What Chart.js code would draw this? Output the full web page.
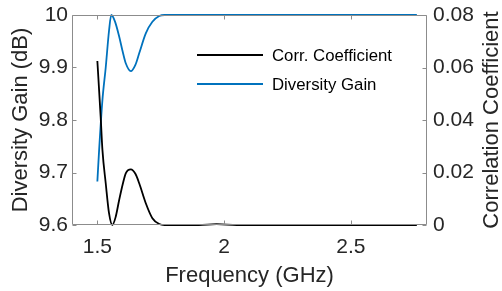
<!DOCTYPE html>
<html><head><meta charset="utf-8">
<script src="https://cdn.jsdelivr.net/npm/chart.js@4"></script>
<style>html,body{margin:0;padding:0;background:#fff}canvas{display:block}</style>
</head><body>
<canvas id="c" width="502" height="291"></canvas>
<script>
// ---- data ----
const freqDG = [1.5, 1.507, 1.52, 1.533, 1.546, 1.555, 1.57, 1.586, 1.6, 1.612, 1.632, 1.65, 1.665, 1.691, 1.717, 1.744, 1.765, 1.9, 2.2, 2.5, 2.76];
const gainDG = [9.683, 9.743, 9.838, 9.90, 9.97, 10.0, 9.987, 9.959, 9.93, 9.908, 9.893, 9.905, 9.927, 9.965, 9.987, 9.998, 10.0, 10.0, 10.0, 10.0, 10.0];
const freqCC = [1.5, 1.513, 1.52, 1.533, 1.546, 1.559, 1.572, 1.586, 1.6, 1.612, 1.632, 1.65, 1.665, 1.691, 1.717, 1.744, 1.765, 1.9, 1.97, 2.05, 2.3, 2.76];
const corrCC = [0.0625, 0.0413, 0.0286, 0.0159, 0.0045, 0.0, 0.003, 0.0095, 0.0155, 0.0197, 0.0212, 0.0195, 0.0159, 0.0083, 0.0026, 0.0004, 0.0, 0.0, 0.0003, 0.0, 0.0, 0.0];
const xTicks = [1.5, 2, 2.5];
const yLeftTicks = [9.6, 9.7, 9.8, 9.9, 10];
const yRightTicks = [0, 0.02, 0.04, 0.06, 0.08];
const seriesLabels = ['Corr. Coefficient', 'Diversity Gain'];
const xTitle = 'Frequency (GHz)';
const yLeftTitle = 'Diversity Gain (dB)';
const yRightTitle = 'Correlation Coefficient';

const FONT = "'Liberation Sans', Arial, sans-serif";
const TXT = '#262626';
const BOX = '#8c8c8c';

const toPts = (xs, ys) => xs.map((x, i) => ({x, y: ys[i]}));
const noPad = sc => { sc.paddingTop = 0; sc.paddingBottom = 0; sc.paddingLeft = 0; sc.paddingRight = 0; };

const frame = {
  id: 'frame',
  afterDatasetsDraw(chart) {
    const {ctx, chartArea: a, scales: s} = chart;
    ctx.save();
    ctx.strokeStyle = BOX; ctx.lineWidth = 1;
    const L = Math.round(a.left) + 0.5, R = Math.round(a.right) - 0.5;
    const T = Math.round(a.top) + 0.5, B = Math.round(a.bottom) - 0.5;
    ctx.beginPath();
    ctx.moveTo(L, T); ctx.lineTo(R, T); ctx.lineTo(R, B); ctx.lineTo(L, B); ctx.closePath();
    const tl = 4;
    xTicks.forEach(v => {
      const px = Math.round(s.x.getPixelForValue(v)) + 0.5;
      ctx.moveTo(px, B); ctx.lineTo(px, B - tl);
      ctx.moveTo(px, T); ctx.lineTo(px, T + tl);
    });
    yLeftTicks.forEach(v => {
      const py = Math.round(s.y.getPixelForValue(v)) + 0.5;
      ctx.moveTo(L, py); ctx.lineTo(L + tl, py);
    });
    yRightTicks.forEach(v => {
      const py = Math.round(s.y1.getPixelForValue(v)) + 0.5;
      ctx.moveTo(R, py); ctx.lineTo(R - tl, py);
    });
    ctx.stroke();

    // legend (inside the axes)
    const ds = chart.data.datasets;
    const rows = [55, 84];
    ctx.font = "16.8px " + FONT;
    ctx.textBaseline = 'middle'; ctx.textAlign = 'left';
    ds.forEach((d, i) => {
      ctx.strokeStyle = d.borderColor; ctx.lineWidth = 2;
      ctx.beginPath(); ctx.moveTo(197, rows[i]); ctx.lineTo(263, rows[i]); ctx.stroke();
      ctx.fillStyle = '#000';
      ctx.fillText(d.label, 272, rows[i] + 1);
    });

    // right axis title, reading bottom-to-top
    ctx.save();
    ctx.translate(492, (a.top + a.bottom) / 2);
    ctx.rotate(-Math.PI / 2);
    ctx.font = "22px " + FONT; ctx.fillStyle = TXT;
    ctx.textAlign = 'center'; ctx.textBaseline = 'middle';
    ctx.fillText(yRightTitle, 0, 0);
    ctx.restore();
    ctx.restore();
  }
};

new Chart(document.getElementById('c'), {
  type: 'line',
  data: {
    datasets: [
      {label: seriesLabels[0], data: toPts(freqCC, corrCC), yAxisID: 'y1', borderColor: '#000000', borderWidth: 1.8, pointRadius: 0, cubicInterpolationMode: 'monotone', clip: 3},
      {label: seriesLabels[1], data: toPts(freqDG, gainDG), yAxisID: 'y', borderColor: '#0072BD', borderWidth: 1.8, pointRadius: 0, cubicInterpolationMode: 'monotone', clip: 3}
    ]
  },
  options: {
    responsive: false, animation: false, devicePixelRatio: 1,
    layout: {padding: {top: 15, left: 0, right: 0, bottom: 0}},
    plugins: {legend: {display: false}, tooltip: {enabled: false}},
    scales: {
      x: {
        type: 'linear', position: 'bottom', min: 1.4, max: 2.8,
        grid: {display: false, drawTicks: false}, border: {display: false},
        afterBuildTicks: sc => { sc.ticks = xTicks.map(v => ({value: v})); },
        afterFit: sc => { noPad(sc); },
        ticks: {color: TXT, font: {family: FONT, size: 21, lineHeight: 1.0}, padding: 11.5, maxRotation: 0, autoSkip: false, callback: v => String(v)},
        title: {display: true, text: xTitle, color: TXT, font: {family: FONT, size: 22, lineHeight: '14px'}, padding: {top: 0, bottom: 8}}
      },
      y: {
        type: 'linear', position: 'left', min: 9.6, max: 10,
        grid: {display: false, drawTicks: false}, border: {display: false},
        afterBuildTicks: sc => { sc.ticks = yLeftTicks.map(v => ({value: v})); },
        afterFit: sc => { sc.width = 72; noPad(sc); },
        ticks: {color: TXT, font: {family: FONT, size: 21}, padding: 4, autoSkip: false, callback: v => String(v)},
        title: {display: true, text: yLeftTitle, color: TXT, font: {family: FONT, size: 22}, padding: {top: 8, bottom: 0}}
      },
      y1: {
        type: 'linear', position: 'right', min: 0, max: 0.08,
        grid: {display: false, drawTicks: false}, border: {display: false},
        afterBuildTicks: sc => { sc.ticks = yRightTicks.map(v => ({value: v})); },
        afterFit: sc => { sc.width = 75; noPad(sc); },
        ticks: {color: TXT, font: {family: FONT, size: 21}, padding: 6, autoSkip: false, callback: v => String(v)}
      }
    }
  },
  plugins: [frame]
});
</script>
</body></html>
